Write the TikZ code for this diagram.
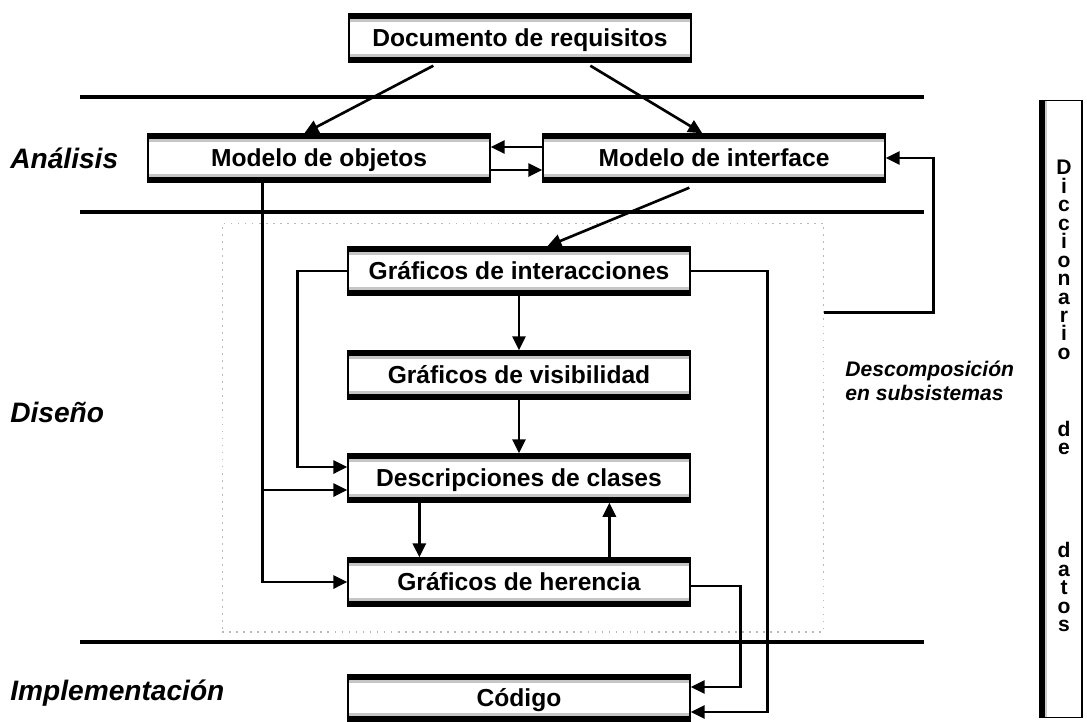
\documentclass[tikz,border=0pt]{standalone}
\usepackage{fontspec}
\setmainfont{Liberation Sans}
\usetikzlibrary{arrows.meta,calc}
\begin{document}
\begin{tikzpicture}[x=0.02cm,y=-0.02cm,
  stage/.style={draw, line width=0.8pt, fill=white,
    minimum width=6.84cm, minimum height=0.96cm, inner sep=0pt,
    text height=11.5pt, text depth=1.5pt,
    font=\bfseries\fontsize{14}{16}\selectfont,
    path picture={
      \fill[black] (path picture bounding box.north west) rectangle ([yshift=-2.8pt]path picture bounding box.north east);
      \fill[gray!45] ([yshift=-2.8pt]path picture bounding box.north west) rectangle ([yshift=-4.4pt]path picture bounding box.north east);
      \fill[black] (path picture bounding box.south west) rectangle ([yshift=2.8pt]path picture bounding box.south east);
      \fill[gray!45] ([yshift=2.8pt]path picture bounding box.south west) rectangle ([yshift=4.4pt]path picture bounding box.south east);
    }},
  phase/.style={anchor=west, inner sep=0pt, font=\bfseries\itshape\fontsize{16}{19}\selectfont},
  sep/.style={line width=1.8pt},
  conn/.style={line width=1.5pt, -{Triangle[length=8pt,width=7.5pt]}}
]
\useasboundingbox (0,0) rectangle (1087,721);

% design zone outline
\node[draw=gray!55, dash pattern=on 1pt off 3pt, line width=0.6pt,
      minimum width=12.04cm, minimum height=8.18cm, inner sep=0pt] (dz) at (523,427.5) {};

% phase separators
\draw[sep] (80,97) -- (924,97);
\draw[sep] (80,212) -- (924,212);
\draw[sep] (80,642) -- (924,642);

% phase labels
\node[phase] (lan) at (10,158) {Análisis};
\node[phase] (ldi) at (10,412) {Diseño};
\node[phase] (lim) at (10,693) {Implementación};

% work products
\node[stage] (doc)   at (520,38)  {Documento de requisitos};
\node[stage] (obj)   at (319,158) {Modelo de objetos};
\node[stage] (intf)  at (714,158) {Modelo de interface};
\node[stage] (inter) at (519,271) {Gráficos de interacciones};
\node[stage] (vis)   at (519,375) {Gráficos de visibilidad};
\node[stage] (desc)  at (519,478) {Descripciones de clases};
\node[stage] (her)   at (519,582) {Gráficos de herencia};
\node[stage, minimum height=0.92cm] (cod) at (519,698) {Código};

% subsystem note
\node[anchor=west, align=left, inner sep=0pt,
      font=\bfseries\itshape\fontsize{12}{13.5}\selectfont] (dsub) at (845,381)
      {Descomposición\\en subsistemas};

% data dictionary column
\node[draw, line width=0.6pt, fill=white, minimum width=0.84cm, minimum height=12.36cm, inner sep=0pt,
      path picture={\fill[black] (path picture bounding box.north west) rectangle ([xshift=2.6pt]path picture bounding box.south west);
                    \fill[gray!40] ([xshift=2.6pt]path picture bounding box.north west) rectangle ([xshift=4.2pt]path picture bounding box.south west);}]
      (dict) at (1061,409) {};
\node[anchor=north, align=center, inner sep=0pt,
      font=\bfseries\fontsize{12}{10.5}\selectfont] (dtext) at (1064,160)
  {D\\i\\c\\c\\i\\o\\n\\a\\r\\i\\o\\[33.2pt]d\\e\\[48.2pt]d\\a\\t\\o\\s};

% analysis flows
\draw[conn] ($(doc.south west)+(85,3)$) -- ($(obj.north west)+(157,0)$);
\draw[conn] ($(doc.south west)+(242,3)$) -- ($(intf.north west)+(160,0)$);
\draw[conn] ($(intf.west)+(0,-11)$) -- ($(obj.east)+(0,-11)$);
\draw[conn] ($(obj.east)+(0,12)$) -- ($(intf.west)+(0,12)$);
\draw[conn] ($(intf.south west)+(147,5)$) -- ($(inter.north west)+(200,0)$);
\draw[conn] ($(dz.north east)+(0,90)$) -- ++(109,0) |- (intf.east);

% design flows
\draw[conn] (inter.west) -- ++(-50,0) |- ($(desc.west)+(0,-11)$);
\draw[conn] ($(obj.south west)+(115,0)$) |- ($(desc.west)+(0,12)$);
\draw[conn] ($(obj.south west)+(115,0)$) |- (her.west);
\draw[conn] (inter.south) -- (vis.north);
\draw[conn] (vis.south) -- (desc.north);
\draw[conn] ($(desc.south west)+(72,0)$) -- ($(her.north west)+(72,0)$);
\draw[conn] ($(her.north west)+(262,0)$) -- ($(desc.south west)+(262,0)$);

% implementation flows
\draw[conn] (inter.east) -- ++(77,0) |- ($(cod.east)+(0,14)$);
\draw[conn] ($(her.east)+(0,4)$) -- ++(50,0) |- ($(cod.east)+(0,-11)$);
\end{tikzpicture}
\end{document}
